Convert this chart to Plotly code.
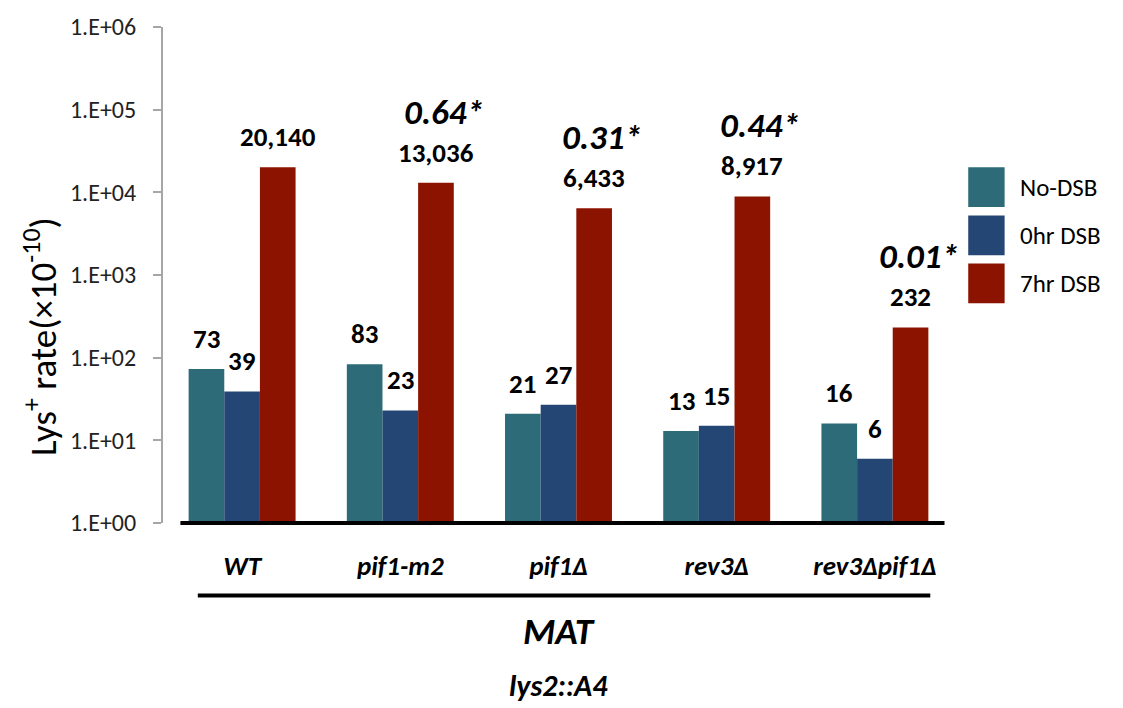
import math
import plotly.graph_objects as go

# Strains and Lys+ rates (x10^-10) for each condition
strains = ["WT", "pif1-m2", "pif1Δ", "rev3Δ", "rev3Δpif1Δ"]
series_names = ["No-DSB", "0hr DSB", "7hr DSB"]
no_dsb = [73, 83, 21, 13, 16]
hr0_dsb = [39, 23, 27, 15, 6]
hr7_dsb = [20140, 13036, 6433, 8917, 232]
# Ratio labels above the 7hr DSB bars (relative to WT)
ratio_labels = ["", "0.64*", "0.31*", "0.44*", "0.01*"]
ytick_vals = [1, 10, 100, 1000, 10000, 100000, 1000000]
ytick_text = ["1.E+00", "1.E+01", "1.E+02", "1.E+03", "1.E+04", "1.E+05", "1.E+06"]

colors = ["#2d6b78", "#244674", "#8c1300"]
FONT = "Carlito, Lato, sans-serif"
BARGAP = 0.324

x = list(range(len(strains)))
all_series = [no_dsb, hr0_dsb, hr7_dsb]

fig = go.Figure()
for name, vals, col in zip(series_names, all_series, colors):
    fig.add_trace(go.Bar(x=x, y=vals, name=name, marker=dict(color=col, line=dict(width=0)),
                         showlegend=False))

bar_w = (1 - BARGAP) / 3
annotations = []
# value labels above each bar
for j, vals in enumerate(all_series):
    for i, v in enumerate(vals):
        annotations.append(dict(
            x=i + (j - 1) * bar_w, y=math.log10(v), xref="x", yref="y",
            text=f"<b>{v:,}</b>", showarrow=False, yanchor="bottom", yshift=12,
            font=dict(family=FONT, size=27, color="black")))
# ratio labels
for i, lab in enumerate(ratio_labels):
    if lab:
        annotations.append(dict(
            x=i + bar_w, y=math.log10(hr7_dsb[i]), xref="x", yref="y",
            text=f"<b><i>{lab}</i></b>", showarrow=False, yanchor="bottom", yshift=48, xshift=8,
            font=dict(family=FONT, size=35, color="black")))
# group titles below the strain labels
annotations.append(dict(x=2, y=-0.218, xref="x", yref="paper", text="<b><i>MAT</i></b>",
                        showarrow=False, yanchor="middle",
                        font=dict(family=FONT, size=37, color="black")))
annotations.append(dict(x=2, y=-0.331, xref="x", yref="paper", text="<b><i>lys2::A4</i></b>",
                        showarrow=False, yanchor="middle", yshift=2,
                        font=dict(family=FONT, size=30, color="black")))
# y-axis title
annotations.append(dict(x=-0.1555, y=0.377, xref="paper", yref="paper",
                        text="Lys<sup>+</sup> rate(×10<sup>-10</sup>)", textangle=-90,
                        showarrow=False, xanchor="center", yanchor="middle",
                        font=dict(family=FONT, size=37, color="black")))

# legend drawn as large swatches
shapes = []
for k, (name, col) in enumerate(zip(series_names, colors)):
    top = 0.717 - k * 0.097
    shapes.append(dict(type="rect", xref="paper", yref="paper", x0=1.018, x1=1.064,
                       y0=top - 0.08, y1=top, fillcolor=col, line=dict(width=0)))
    annotations.append(dict(x=1.081, y=top - 0.04, xref="paper", yref="paper", text=name,
                            showarrow=False, xanchor="left", yanchor="middle",
                            font=dict(family=FONT, size=25, color="black")))

# baseline and strain-group underline
shapes.append(dict(type="line", xref="x", yref="y domain", x0=-0.39, x1=4.44, y0=0, y1=0,
                   line=dict(color="black", width=4)))
shapes.append(dict(type="line", xref="x", yref="paper", x0=-0.28, x1=4.35, y0=-0.146, y1=-0.146,
                   line=dict(color="black", width=4)))

fig.update_layout(
    width=1123, height=708,
    margin=dict(l=163, r=169, t=24, b=185),
    paper_bgcolor="white", plot_bgcolor="white",
    barmode="group", bargap=BARGAP, bargroupgap=0,
    annotations=annotations, shapes=shapes,
    font=dict(family=FONT, color="black"),
)
fig.update_xaxes(range=[-0.5, 4.5], tickvals=x,
                 ticktext=[f"<b><i>{s}</i></b>" for s in strains],
                 tickfont=dict(family=FONT, size=27, color="black"),
                 showline=False, showgrid=False, zeroline=False, ticks="",
                 ticklabelstandoff=24)
fig.update_yaxes(type="log", range=[0, 6], tickvals=ytick_vals, ticktext=ytick_text,
                 tickfont=dict(family=FONT, size=24, color="#222222"),
                 showline=True, linecolor="#a6a6a6", linewidth=2,
                 ticks="outside", ticklen=8, tickcolor="#a6a6a6", tickwidth=2,
                 showgrid=False, zeroline=False, ticklabelstandoff=12)

fig.write_html("out.html")
